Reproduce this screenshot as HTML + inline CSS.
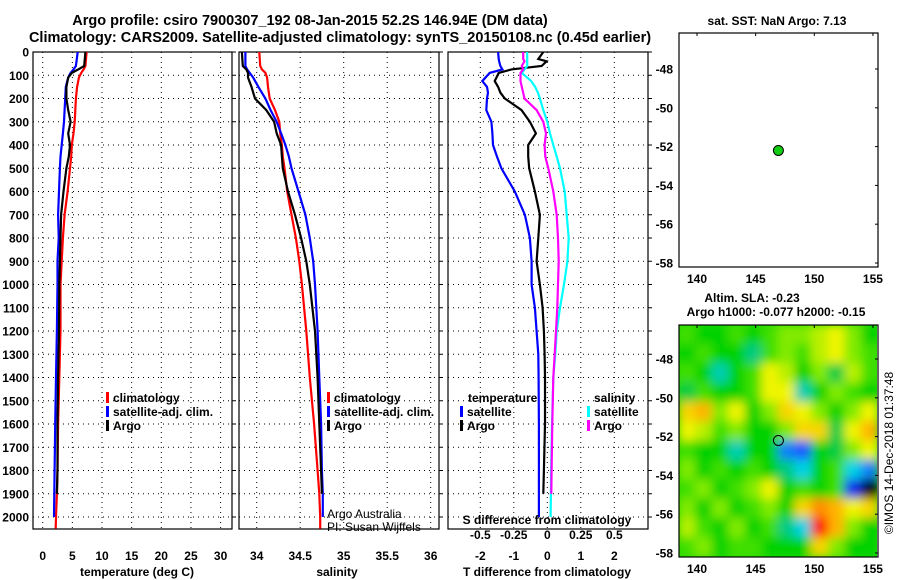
<!DOCTYPE html>
<html><head><meta charset="utf-8"><style>
html,body{margin:0;padding:0;background:#fff}
svg{display:block;font-family:"Liberation Sans",Arial,sans-serif;font-weight:bold}
</style></head><body>
<svg id="chart" width="900" height="580" viewBox="0 0 900 580" xmlns="http://www.w3.org/2000/svg">
<defs>
<clipPath id="c1"><rect x="33" y="52" width="199" height="477"/></clipPath>
<clipPath id="c2"><rect x="239" y="52" width="200" height="477"/></clipPath>
<clipPath id="c3"><rect x="448" y="52" width="200" height="477"/></clipPath>
<clipPath id="cm"><rect x="679" y="325" width="198" height="232"/></clipPath>
<filter id="bl" x="-5%" y="-5%" width="110%" height="110%"><feGaussianBlur stdDeviation="5"/></filter>
</defs>
<text x="310" y="25" font-size="14.5" text-anchor="middle">Argo profile: csiro 7900307_192 08-Jan-2015 52.2S 146.94E (DM data)</text>
<text x="340" y="42" font-size="14.5" text-anchor="middle">Climatology: CARS2009. Satellite-adjusted climatology: synTS_20150108.nc (0.45d earlier)</text>
<g id="g"></g>
</svg>
<script>
// ---- profile data ----
const depthT = [0,60,75,90,110,150,200,250,300,350,400,450,500,600,700,800,900,1000,1200,1400,1600,1800,1900,2000,2050];
const tempClim = [7.4,7.2,6.9,6.5,6.1,5.8,5.6,5.5,5.4,5.2,4.9,4.8,4.6,4.2,3.7,3.4,3.2,3.0,3.0,2.8,2.6,2.5,2.4,2.25,2.2];
const tempSat  = [5.9,5.6,5.2,4.7,4.3,3.9,3.8,3.7,3.6,3.4,3.2,3.0,2.9,2.75,2.6,2.7,2.5,2.5,2.4,2.25,2.1,2.0,1.95,1.9,null];
const tempArgo = [7.2,7.0,6.0,4.9,4.3,4.0,4.0,4.3,4.7,4.3,4.6,4.4,4.0,3.5,3.1,3.0,2.9,2.8,2.75,2.6,2.5,2.5,2.4,null,null];
const salClim = [34.03,34.04,34.06,34.10,34.12,34.13,34.15,34.21,34.26,34.27,34.29,34.30,34.32,34.35,34.40,34.45,34.49,34.52,34.57,34.61,34.66,34.70,34.72,34.73,34.73];
const salSat  = [33.87,33.87,33.89,33.92,33.96,34.02,34.10,34.16,34.23,34.28,34.33,34.37,34.40,34.48,34.56,34.61,34.65,34.67,34.70,34.72,34.74,34.75,34.76,34.76,null];
const salArgo = [33.83,33.84,33.88,33.90,33.90,33.94,33.98,34.11,34.20,34.23,34.28,34.29,34.30,34.36,34.44,34.51,34.57,34.61,34.67,34.70,34.72,34.74,34.75,null,null];
const depthD = [0,30,40,60,75,90,125,150,175,200,250,300,350,400,450,500,600,700,800,900,1000,1100,1200,1300,1400,1600,1800,1900,2000];
const dTsat  = [-1.47,-1.45,-1.44,-1.40,-1.34,-1.72,-1.94,-1.80,-1.77,-1.80,-1.82,-1.67,-1.64,-1.62,-1.50,-1.37,-0.97,-0.67,-0.52,-0.47,-0.47,-0.37,-0.32,-0.27,-0.26,-0.25,-0.25,-0.25,-0.25];
const dTargo = [-0.12,-0.27,-0.02,-0.17,-1.07,-1.45,-1.57,-1.47,-1.40,-1.27,-0.77,-0.52,-0.34,-0.57,-0.57,-0.54,-0.37,-0.22,-0.27,-0.32,-0.22,-0.14,-0.10,-0.08,-0.07,-0.07,-0.10,-0.12,null];
const dSsat  = [-0.15,-0.15,-0.15,-0.15,-0.17,-0.19,-0.12,-0.09,-0.07,-0.055,-0.03,0.0,0.02,0.045,0.07,0.095,0.13,0.145,0.16,0.15,0.125,0.095,0.07,0.06,0.045,0.035,0.028,0.027,0.025];
const dSargo = [-0.18,-0.18,-0.17,-0.19,-0.18,-0.20,-0.20,-0.19,-0.18,-0.17,-0.08,-0.03,-0.01,-0.02,-0.015,0.0075,0.045,0.07,0.08,0.085,0.08,0.075,0.065,0.055,0.045,0.037,0.032,0.03,null];
const depthTicks = [0,100,200,300,400,500,600,700,800,900,1000,1100,1200,1300,1400,1500,1600,1700,1800,1900,2000];
const tempTicks = [0,5,10,15,20,25,30];
const salTicks = [34,34.5,35,35.5,36];
const salTickLabels = ["34","34.5","35","35.5","36"];
const tdTicks = [-2,-1,0,1,2];
const sdTicks = [-0.5,-0.25,0,0.25,0.5];
const sdTickLabels = ["-0.5","-0.25","0","0.25","0.5"];
// ---- map data ----
const lonTicks = [140,145,150,155];
const latTicks = [-48,-50,-52,-54,-56,-58];
const argoLon = 146.94, argoLat = -52.2;
const slaGrid = [
[0.05,0,0,0.05,0,0.05,0.1,0.1,0.15,0.2,0.1,0],
[0,0.05,0,0,-0.1,0.05,0.1,0.05,0.15,0.2,0.1,0.05],
[0.05,0,-0.15,0,0.05,0.2,0.15,0,0.1,-0.05,0.15,0.05],
[-0.05,0.05,0,0,0.05,0.2,0.2,-0.15,0,0.1,0.05,0],
[0.25,0.3,0.1,0.2,0,0.1,0.25,0.2,0.1,0,0.1,0.2],
[0.2,0.15,0.05,0.1,0,0,0.1,0.25,0.25,-0.05,0.2,0.3],
[0.05,0,0,-0.15,0,0,-0.3,-0.35,0,-0.05,0.1,0.2],
[0.1,0,0.05,0,0.05,0,-0.1,-0.2,0,0.05,-0.2,-0.3],
[0.05,0.1,0,0.05,0.1,0.2,0,0.05,0,0.05,-0.4,-0.55],
[0.1,0,0.1,0,0.05,0.1,0,0.25,0.35,0.3,0.2,0.25],
[0.15,0.05,0,0.1,0,0.05,-0.1,-0.2,0.5,0.3,0.1,0],
[0.05,0.1,0,0.05,0.05,0,0,0,0.25,0.1,0,0]];

const NS='http://www.w3.org/2000/svg';
const G=document.getElementById('g');
function el(t,a,p){const e=document.createElementNS(NS,t);for(const k in a)e.setAttribute(k,a[k]);(p||G).appendChild(e);return e;}
function txt(s,a,p){const e=el('text',a,p);e.textContent=s;return e;}

const Y0=52, YS=0.2325, YB=529;
const yD=d=>Y0+d*YS;
const xT=v=>42.7+v*5.93;
const xS=v=>256.7+(v-34)*87;
const xTd=v=>547.3+v*33.5;
const xSd=v=>547.3+v*134;

function panel(name,x0,x1,clip,xticks,xfn,labels,showDepth){
  const g=el('g',{'clip-path':'url(#'+clip+')'});
  
  
  depthTicks.forEach(d=>{el('line',{x1:x0,x2:x1,y1:yD(d),y2:yD(d),stroke:'#000','stroke-width':1,'stroke-dasharray':'1,4'},g);});
  xticks.forEach(v=>{el('line',{x1:xfn(v),x2:xfn(v),y1:Y0,y2:YB,stroke:'#000','stroke-width':1,'stroke-dasharray':'1,4'},g);});
  const r=el('rect',{x:x0,y:Y0,width:x1-x0,height:YB-Y0,fill:'none',stroke:'#000','stroke-width':1.2});
  
  
  if(labels){xticks.forEach((v,i)=>{const t=txt(labels[i],{x:xfn(v),y:560,'font-size':12,'text-anchor':'middle'});
    
    });}
  if(showDepth){depthTicks.forEach(d=>{const t=txt(String(d),{x:29,y:yD(d)+4.5,'font-size':12,'text-anchor':'end'});
    
    });}
  depthTicks.forEach(d=>{el('line',{x1:x1,x2:x1+4,y1:yD(d),y2:yD(d),stroke:'#000'});});
}
function series(name,depths,vals,xfn,color,clip){
  let pts=[];
  depths.forEach((d,i)=>{if(vals[i]!==null&&vals[i]!==undefined)pts.push(xfn(vals[i]).toFixed(1)+','+yD(d).toFixed(1));});
  const p=el('polyline',{points:pts.join(' '),fill:'none',stroke:color,'stroke-width':2.2,'stroke-linejoin':'miter','clip-path':'url(#'+clip+')'});
  
  
}
function legendItem(name,x,y,color,label){
  if(color){el('rect',{x:x,y:y-10,width:3,height:11,fill:color});}
  const t=txt(label,{x:x+7,y:y,'font-size':12});
  
  
}

panel('temperature-panel',33,232,'c1',tempTicks,xT,tempTicks.map(String),true);
series('temp-climatology-line',depthT,tempClim,xT,'#f00','c1');
series('temp-satellite-line',depthT,tempSat,xT,'#00f','c1');
series('temp-argo-line',depthT,tempArgo,xT,'#000','c1');
legendItem('legend-climatology',106,402,'#f00','climatology');
legendItem('legend-satellite-adj',106,416,'#00f','satellite-adj. clim.');
legendItem('legend-argo',106,430,'#000','Argo');
let t=txt('temperature (deg C)',{x:137,y:576,'font-size':12,'text-anchor':'middle'});



panel('salinity-panel',239,439,'c2',salTicks,xS,salTickLabels,false);
series('sal-climatology-line',depthT,salClim,xS,'#f00','c2');
series('sal-satellite-line',depthT,salSat,xS,'#00f','c2');
series('sal-argo-line',depthT,salArgo,xS,'#000','c2');
legendItem('legend-sal-climatology',327,402,'#f00','climatology');
legendItem('legend-sal-satellite-adj',327,416,'#00f','satellite-adj. clim.');
legendItem('legend-sal-argo',327,430,'#000','Argo');
t=txt('salinity',{x:337,y:576,'font-size':12,'text-anchor':'middle'});


t=txt('Argo Australia',{x:327,y:518,'font-size':12,'font-weight':'normal'});


t=txt('PI: Susan Wijffels',{x:327,y:531,'font-size':12,'font-weight':'normal'});



panel('difference-panel',448,648,'c3',tdTicks,xTd,tdTicks.map(String),false);
series('dT-satellite-line',depthD,dTsat,xTd,'#00f','c3');
series('dT-argo-line',depthD,dTargo,xTd,'#000','c3');
series('dS-satellite-line',depthD,dSsat,xSd,'#0ff','c3');
series('dS-argo-line',depthD,dSargo,xSd,'#f0f','c3');
legendItem('legend-temperature-heading',461,402,null,'temperature');
legendItem('legend-dT-satellite',460,416,'#00f','satellite');
legendItem('legend-dT-argo',460,430,'#000','Argo');
legendItem('legend-salinity-heading',587,402,null,'salinity');
legendItem('legend-dS-satellite',587,416,'#0ff','satellite');
legendItem('legend-dS-argo',587,430,'#f0f','Argo');
t=txt('S difference from climatology',{x:547,y:524,'font-size':12,'text-anchor':'middle'});


sdTicks.forEach((v,i)=>{const s=txt(sdTickLabels[i],{x:xSd(v),y:539,'font-size':12,'text-anchor':'middle'});
  
  });
t=txt('T difference from climatology',{x:547,y:576,'font-size':12,'text-anchor':'middle'});



const xL=v=>697+(v-140)*11.73;
function mapAxes(name,top,bot,lat48){
  const yL=v=>lat48+(-48-v)*19.4;
  const r=el('rect',{x:679,y:top,width:199,height:bot-top,fill:'none',stroke:'#000','stroke-width':1.2});
  
  
  latTicks.forEach(v=>{const s=txt(String(v),{x:673,y:yL(v)+4.5,'font-size':12,'text-anchor':'end'});
    
    
    el('line',{x1:878,x2:875,y1:yL(v),y2:yL(v),stroke:'#000'});});
  lonTicks.forEach(v=>{const s=txt(String(v),{x:xL(v),y:bot+16,'font-size':12,'text-anchor':'middle'});
    
    
    el('line',{x1:xL(v),x2:xL(v),y1:top,y2:top+3,stroke:'#000'});});
  return yL;
}
const yTop=mapAxes('sst-map',33,267,69);
let c=el('circle',{cx:xL(argoLon),cy:yTop(argoLat),r:5,fill:'#1c1',stroke:'#000','stroke-width':1});


t=txt('sat. SST: NaN Argo: 7.13',{x:777,y:25,'font-size':12,'text-anchor':'middle'});



const stops=[[-0.55,[0,0,0]],[-0.45,[0,0,220]],[-0.35,[20,90,255]],[-0.2,[0,210,230]],[-0.08,[0,200,110]],[0,[0,210,0]],[0.1,[130,235,0]],[0.2,[240,245,0]],[0.3,[255,180,0]],[0.4,[255,100,0]],[0.5,[255,0,0]]];
function cmap(v){if(v<=stops[0][0])return 'rgb(0,0,0)';for(let i=1;i<stops.length;i++){if(v<=stops[i][0]){const a=stops[i-1],b=stops[i];const f=(v-a[0])/(b[0]-a[0]);return 'rgb('+a[1].map((c,k)=>Math.round(c+(b[1][k]-c)*f)).join(',')+')';}}return 'rgb(255,0,0)';}
const mg=el('g',{'clip-path':'url(#cm)'});


el('rect',{x:679,y:325,width:199,height:232,fill:cmap(0.03)},mg);
const hg=el('g',{filter:'url(#bl)'},mg);
const nr=slaGrid.length,nc=slaGrid[0].length,cw=199/nc,ch=232/nr;
slaGrid.forEach((row,i)=>row.forEach((v,j)=>{
  const r=el('rect',{x:679+j*cw-0.5,y:325+i*ch-0.5,width:cw+1,height:ch+1,fill:cmap(v)},hg);
  
  
}));
const yBot=mapAxes('sla-map',325,557,359);
c=el('circle',{cx:xL(argoLon),cy:yBot(argoLat),r:5,fill:'none',stroke:'#000','stroke-width':1});


t=txt('Altim. SLA: -0.23',{x:752,y:302,'font-size':12,'text-anchor':'middle'});


t=txt('Argo h1000: -0.077 h2000: -0.15',{x:776,y:316,'font-size':12,'text-anchor':'middle'});


t=txt('©IMOS 14-Dec-2018 01:37:48',{x:0,y:0,'font-size':12,'font-weight':'normal','text-anchor':'middle',transform:'translate(893,453) rotate(-90)'});


</script>
</body></html>
